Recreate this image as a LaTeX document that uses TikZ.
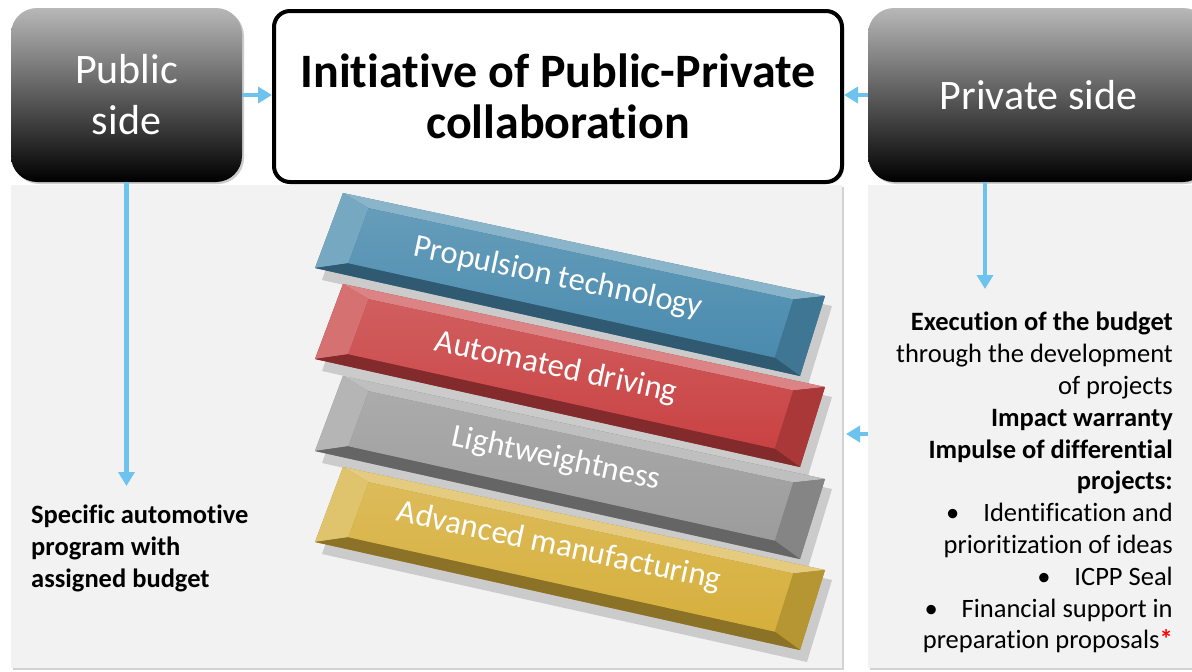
\documentclass[tikz,border=0pt]{standalone}
\usepackage{fontspec}
\setmainfont{Carlito}[Ligatures=NoCommon]
\usetikzlibrary{shadows,arrows.meta,calc}
\definecolor{arrowblue}{HTML}{6EC3EE}
\definecolor{panelgray}{HTML}{F2F2F2}
\definecolor{slabblue}{HTML}{4A8BAE}
\definecolor{slabred}{HTML}{C94243}
\definecolor{slabgray}{HTML}{9C9C9C}
\definecolor{slabgold}{HTML}{D6AF3C}
% slab: #1 = vertical shift, #2 = colour
\newcommand\myslab[2]{%
  \begin{scope}[yshift=-#1pt]
    \fill[black, opacity=.16] (350,203) -- (832,306) -- (807,388) -- (322,280) -- cycle;
    \fill[#2!80!black] (343,193) -- (825,296) -- (800,376) -- (315,268) -- cycle;
    \fill[#2!65!white] (343,193) -- (825,296) -- (793.1,299.4) -- (368.6,208.2) -- cycle;
    \fill[#2!75!white] (343,193) -- (368.6,208.2) -- (348.3,263.2) -- (315,268) -- cycle;
    \fill[#2!85!black] (825,296) -- (800,376) -- (774.7,357.6) -- (793.1,299.4) -- cycle;
    \fill[#2!65!black] (315,268) -- (348.3,263.2) -- (774.7,357.6) -- (800,376) -- cycle;
    \shade[top color=#2!85!white, bottom color=#2] (368.6,208.2) -- (793.1,299.4) -- (774.7,357.6) -- (348.3,263.2) -- cycle;
  \end{scope}}
\begin{document}
\begin{tikzpicture}[x=1pt,y=-1pt,
  panel/.style={fill=panelgray, inner sep=0pt, outer sep=0pt,
    drop shadow={shadow xshift=2pt, shadow yshift=-2pt, opacity=.35}},
  sidebox/.style={rounded corners=26pt, top color=black!28, bottom color=black,
    text=white, align=center, inner sep=0pt, outer sep=0pt,
    font=\fontsize{42}{51}\selectfont,
    drop shadow={shadow xshift=2pt, shadow yshift=-2pt, opacity=.4}},
  initbox/.style={draw=black, line width=4pt, rounded corners=16pt, fill=white,
    align=center, inner sep=0pt, font=\bfseries\fontsize{48}{51.5}\selectfont,
    drop shadow={shadow xshift=2pt, shadow yshift=-2pt, opacity=.3}},
  arr/.style={draw=arrowblue, line width=4.5pt, -{Triangle[length=14pt,width=16pt]}},
  slabtext/.style={text=white, rotate=-12, inner sep=0pt, font=\fontsize{32.5}{36}\selectfont},
  bodytext/.style={inner sep=0pt, font=\fontsize{26.5}{31.8}\selectfont}
]
\useasboundingbox (0,0) rectangle (1192,672);
\fill[white] (0,0) rectangle (1192,672);

% panels
\node[panel, minimum width=831pt, minimum height=483pt, anchor=north west] (lpanel) at (11,185) {};
\node[panel, minimum width=330pt, minimum height=483pt, anchor=north west] (rpanel) at (868,185) {};

% slabs
\myslab{0}{slabblue}
\myslab{91}{slabred}
\myslab{183}{slabgray}
\myslab{274}{slabgold}
\node[slabtext] (s1) at (558,278) {Propulsion technology};
\node[slabtext] (s2) at (556,368) {Automated driving};
\node[slabtext] (s3) at (556,459) {Lightweightness};
\node[slabtext] (s4) at (559,547) {Advanced manufacturing};

% top boxes
\node[sidebox, minimum width=231pt, minimum height=174pt, anchor=north west] (pub) at (11,8) {Public\\side};
\node[sidebox, minimum width=341pt, minimum height=174pt, anchor=north west] (priv) at (868,8) {Private side};
\node[initbox, minimum width=568pt, minimum height=171pt, anchor=north west] (init) at (272,9) {Initiative of Public-Private\\collaboration};

% texts
\node[bodytext, anchor=north west, align=left, font=\bfseries\fontsize{26.5}{31.8}\selectfont] (prog) at (31,505) {Specific automotive\\program with\\assigned budget};
\node[bodytext, anchor=north east, align=right] (exec) at (1173,312) {\textbf{Execution of the budget}\\through the development\\of projects\\\textbf{Impact warranty}\\\textbf{Impulse of differential}\\\textbf{projects:}\\\textbullet\hspace{24pt}Identification and\\prioritization of ideas\\\textbullet\hspace{24pt}ICPP Seal\\\textbullet\hspace{24pt}Financial support in\\preparation proposals{\color{red}\bfseries*}};

% connectors
\coordinate (pubend) at (126.5,486);
\coordinate (privend) at (985,289);
\draw[arr] (pub.east) -- (pub.east -| init.west);
\draw[arr] (priv.west) -- (priv.west -| init.east);
\draw[arr] (pub.south -| pubend) -- (pubend);
\draw[arr] (privend |- priv.south) -- (privend);
\draw[arr] (rpanel.west |- 0,434) -- ($(lpanel.east |- 0,434)+(4,0)$);
\end{tikzpicture}
\end{document}
